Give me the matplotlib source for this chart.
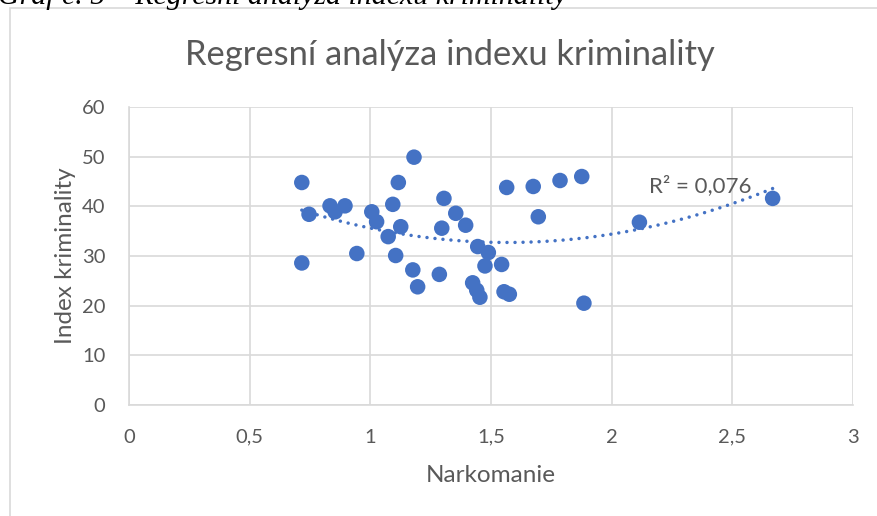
#!/usr/bin/env python3
"""
Regresní analýza indexu kriminality - scatter with 2nd order trendline
"""

import matplotlib.pyplot as plt
import matplotlib.patches as mpatches
import numpy as np

plt.rcParams['font.family'] = ['Lato', 'DejaVu Sans']

# Data
narkomanie = [0.716, 0.746, 0.833, 0.854, 0.895, 0.716, 0.944, 1.006, 1.026, 1.074,
              1.093, 1.105, 1.116, 1.126, 1.176, 1.181, 1.196, 1.305, 1.354, 1.395,
              1.296, 1.286, 1.445, 1.489, 1.475, 1.544, 1.424, 1.441, 1.454, 1.554,
              1.576, 1.565, 1.675, 1.786, 1.876, 1.696, 1.885, 2.115, 2.667]
index_kriminality = [44.8, 38.4, 40.1, 38.9, 40.1, 28.6, 30.5, 38.9, 36.9, 33.9,
                     40.4, 30.1, 44.8, 35.9, 27.2, 49.9, 23.8, 41.6, 38.6, 36.2,
                     35.6, 26.3, 31.9, 30.7, 28.0, 28.3, 24.6, 23.1, 21.7, 22.8,
                     22.3, 43.8, 44.0, 45.2, 46.0, 37.9, 20.5, 36.8, 41.6]
x_ticks = [0, 0.5, 1, 1.5, 2, 2.5, 3]
x_tick_labels = ['0', '0,5', '1', '1,5', '2', '2,5', '3']
y_ticks = [0, 10, 20, 30, 40, 50, 60]

point_color = '#4472c4'
text_color = '#595959'
grid_color = '#d9d9d9'

W, H = 878, 516
fig = plt.figure(figsize=(W / 100, H / 100), dpi=100)
fig.patch.set_facecolor('white')

# Chart frame (left and top edge visible, like the Word embedded chart)
fig.add_artist(mpatches.Rectangle((10 / W, -0.1), 1.2, 1.1 - 8 / H,
                                  transform=fig.transFigure, fill=False,
                                  edgecolor='#d9d9d9', linewidth=1.2))

# Document caption, cut off by the top edge as in the source
fig.text(-2 / W, 1 - 4 / H, 'Graf č. 5 – Regresní analýza indexu kriminality',
         family='Liberation Serif', style='italic', fontsize=21.5,
         ha='left', va='baseline', color='black')

ax = fig.add_axes([129 / W, 1 - 405 / H, 724 / W, 298 / H])

ax.scatter(narkomanie, index_kriminality, s=125, color=point_color,
           edgecolors='none', zorder=3)

# Polynomial (order 2) trendline
coef = np.polyfit(narkomanie, index_kriminality, 2)
xs = np.linspace(min(narkomanie), max(narkomanie), 200)
ax.plot(xs, np.polyval(coef, xs), linestyle=(0, (0.01, 2.3)), linewidth=2.5,
        color=point_color, dash_capstyle='round', zorder=2)
ax.text(2.155, 42.0, 'R² = 0,076', fontsize=16, color=text_color,
        ha='left', va='bottom', zorder=4)

ax.set_xlim(0, 3)
ax.set_ylim(0, 60)
ax.set_xticks(x_ticks)
ax.set_xticklabels(x_tick_labels)
ax.set_yticks(y_ticks)
ax.tick_params(length=0, labelsize=14.5, labelcolor=text_color)
ax.tick_params(axis='x', pad=17)
ax.tick_params(axis='y', pad=17)

ax.grid(True, color=grid_color, linewidth=1.2)
ax.set_axisbelow(True)
for side in ['top', 'right']:
    ax.spines[side].set_visible(False)
for side in ['left', 'bottom']:
    ax.spines[side].set_color(grid_color)
    ax.spines[side].set_linewidth(1.2)

ax.set_xlabel('Narkomanie', fontsize=17.5, color=text_color, labelpad=14)
ax.set_ylabel('Index kriminality', fontsize=17.5, color=text_color, labelpad=4)

fig.text(450 / W, 1 - 55 / H, 'Regresní analýza indexu kriminality',
         fontsize=24.8, color=text_color, ha='center', va='center')

plt.savefig('out.png', dpi=100)
plt.close()
